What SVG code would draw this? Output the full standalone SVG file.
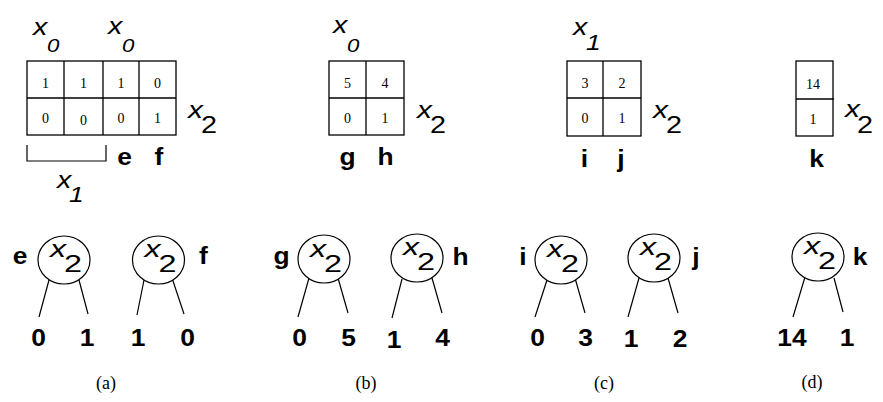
<svg xmlns="http://www.w3.org/2000/svg" width="883" height="402" viewBox="0 0 883 402">
<style>
.g{fill:none;stroke:#000;stroke-width:1.3}
.n{font-family:"Liberation Serif","Times New Roman",serif;font-size:14px;text-anchor:middle;fill:#000}
.v{font-family:"Liberation Sans",Arial,sans-serif;font-style:italic;font-size:23px;fill:#000}
.s0{font-family:"Liberation Sans",Arial,sans-serif;font-style:italic;font-size:18.5px;fill:#000}
.s1{font-family:"Liberation Sans",Arial,sans-serif;font-style:italic;font-size:22px;fill:#000}
.s2{font-family:"Liberation Sans",Arial,sans-serif;font-size:24px;fill:#000}
.b{font-family:"Liberation Sans",Arial,sans-serif;font-weight:bold;font-size:24px;text-anchor:middle;fill:#000}
.c{font-family:"Liberation Serif","Times New Roman",serif;font-size:18px;text-anchor:middle;fill:#000}
.e{fill:#fff;stroke:#000;stroke-width:1.2}
.l{stroke:#000;stroke-width:1.2;fill:none}
</style>
<rect width="883" height="402" fill="#fff"/>

<!-- (a) map -->
<g id="map-a">
<rect class="g" x="27" y="61" width="149" height="74"/>
<path class="g" d="M64 61V135M103 61V135M139 61V135M27 98H176"/>
<text class="n" x="45.5" y="88">1</text><text class="n" x="83.5" y="88">1</text><text class="n" x="121" y="88">1</text><text class="n" x="157.5" y="88">0</text>
<text class="n" x="45.5" y="123">0</text><text class="n" x="83.5" y="125">0</text><text class="n" x="121" y="123">0</text><text class="n" x="157.5" y="123">1</text>
<text class="v" transform="translate(33,35) scale(1.25,1)">x</text><text class="s0" transform="translate(47,52) scale(1.2,1)">0</text>
<text class="v" transform="translate(108,34) scale(1.25,1)">x</text><text class="s0" transform="translate(122,52) scale(1.2,1)">0</text>
<text class="v" transform="translate(188,118) scale(1.3,1)">x</text><text class="s2" transform="translate(201,133) scale(1.2,1)">2</text>
<polyline class="l" points="27,145 27,161 106,161 106,145"/>
<text class="v" transform="translate(57,188) scale(1.25,1)">x</text><text class="s1" transform="translate(69,202) scale(1.2,1)">1</text>
<text class="b" transform="translate(124.5,165) scale(1.1,1)">e</text>
<text class="b" transform="translate(159,165) scale(1.1,1)">f</text>
</g>

<!-- (b) map -->
<g id="map-b">
<rect class="g" x="329" y="61" width="75" height="74"/>
<path class="g" d="M366 61V135M329 98H404"/>
<text class="n" x="347.5" y="88">5</text><text class="n" x="385" y="88">4</text>
<text class="n" x="347.5" y="123">0</text><text class="n" x="385" y="123">1</text>
<text class="v" transform="translate(333,33) scale(1.25,1)">x</text><text class="s0" transform="translate(347,52) scale(1.2,1)">0</text>
<text class="v" transform="translate(417,118) scale(1.3,1)">x</text><text class="s2" transform="translate(430,133) scale(1.2,1)">2</text>
<text class="b" transform="translate(347.5,165) scale(1.1,1)">g</text>
<text class="b" transform="translate(385.5,165) scale(1.1,1)">h</text>
</g>

<!-- (c) map -->
<g id="map-c">
<rect class="g" x="567" y="61" width="74" height="75"/>
<path class="g" d="M603 61V136M567 98H641"/>
<text class="n" x="585" y="88">3</text><text class="n" x="622" y="88">2</text>
<text class="n" x="585" y="123">0</text><text class="n" x="622" y="123">1</text>
<text class="v" transform="translate(573,35) scale(1.25,1)">x</text><text class="s1" transform="translate(586,50) scale(1.2,1)">1</text>
<text class="v" transform="translate(653,118) scale(1.3,1)">x</text><text class="s2" transform="translate(666,133) scale(1.2,1)">2</text>
<text class="b" transform="translate(584.5,167) scale(1.1,1)">i</text>
<text class="b" transform="translate(621,167) scale(1.1,1)">j</text>
</g>

<!-- (d) map -->
<g id="map-d">
<rect class="g" x="796" y="61" width="37" height="75"/>
<path class="g" d="M796 99H834"/>
<text class="n" x="813" y="89">14</text>
<text class="n" x="813" y="124">1</text>
<text class="v" transform="translate(845,117) scale(1.3,1)">x</text><text class="s2" transform="translate(857,133) scale(1.2,1)">2</text>
<text class="b" transform="translate(816.5,167) scale(1.1,1)">k</text>
</g>

<!-- connectors -->
<g id="connectors">
<path class="l" d="M49 280L39 317M79 280L88 314"/>
<path class="l" d="M144 280L137 315M172 278L184 314"/>
<path class="l" d="M309 278L298 317M338 278L348 313"/>
<path class="l" d="M402 279L392 318M432 278L442 313"/>
<path class="l" d="M547 280L535 317M575 278L585 313"/>
<path class="l" d="M639 278L628 317M668 278L678 313"/>
<path class="l" d="M805 277L793 317M834 278L843 312"/>
</g>

<!-- tree nodes -->
<g id="node-e">
<ellipse class="e" cx="64" cy="260" rx="26" ry="24"/>
<text class="v" transform="translate(50,257) scale(1.4,1)">x</text><text class="s2" transform="translate(64,272) scale(1.35,1)">2</text>
<text class="b" transform="translate(20,264) scale(1.1,1)">e</text>
</g>
<g id="node-f">
<ellipse class="e" cx="158.5" cy="260" rx="26" ry="24"/>
<text class="v" transform="translate(144.5,257) scale(1.4,1)">x</text><text class="s2" transform="translate(158.5,272) scale(1.35,1)">2</text>
<text class="b" transform="translate(203.5,264) scale(1.1,1)">f</text>
</g>
<g id="node-g">
<ellipse class="e" cx="324" cy="259" rx="26" ry="24"/>
<text class="v" transform="translate(310,257) scale(1.4,1)">x</text><text class="s2" transform="translate(324,272) scale(1.35,1)">2</text>
<text class="b" transform="translate(281.5,264) scale(1.1,1)">g</text>
</g>
<g id="node-h">
<ellipse class="e" cx="417" cy="258" rx="26" ry="24"/>
<text class="v" transform="translate(403,255) scale(1.4,1)">x</text><text class="s2" transform="translate(417,270) scale(1.35,1)">2</text>
<text class="b" transform="translate(460.5,265) scale(1.1,1)">h</text>
</g>
<g id="node-i">
<ellipse class="e" cx="561" cy="260" rx="26" ry="24"/>
<text class="v" transform="translate(547,257) scale(1.4,1)">x</text><text class="s2" transform="translate(561,272) scale(1.35,1)">2</text>
<text class="b" transform="translate(523,265) scale(1.1,1)">i</text>
</g>
<g id="node-j">
<ellipse class="e" cx="654" cy="258" rx="26" ry="24"/>
<text class="v" transform="translate(640,255) scale(1.4,1)">x</text><text class="s2" transform="translate(654,270) scale(1.35,1)">2</text>
<text class="b" transform="translate(696,265) scale(1.1,1)">j</text>
</g>
<g id="node-k">
<ellipse class="e" cx="818" cy="257" rx="26" ry="24"/>
<text class="v" transform="translate(804,254) scale(1.4,1)">x</text><text class="s2" transform="translate(818,269) scale(1.35,1)">2</text>
<text class="b" transform="translate(860,265) scale(1.1,1)">k</text>
</g>

<!-- leaves -->
<g id="leaves">
<text class="b" transform="translate(38.5,346) scale(1.1,1)">0</text>
<text class="b" transform="translate(87,346) scale(1.1,1)">1</text>
<text class="b" transform="translate(138,346) scale(1.1,1)">1</text>
<text class="b" transform="translate(187.5,346) scale(1.1,1)">0</text>
<text class="b" transform="translate(299.5,346) scale(1.1,1)">0</text>
<text class="b" transform="translate(348.5,346) scale(1.1,1)">5</text>
<text class="b" transform="translate(394,348) scale(1.1,1)">1</text>
<text class="b" transform="translate(442.5,346) scale(1.1,1)">4</text>
<text class="b" transform="translate(537.5,346) scale(1.1,1)">0</text>
<text class="b" transform="translate(585.5,346) scale(1.1,1)">3</text>
<text class="b" transform="translate(631,347) scale(1.1,1)">1</text>
<text class="b" transform="translate(680,347) scale(1.1,1)">2</text>
<text class="b" transform="translate(792,346) scale(1.1,1)">14</text>
<text class="b" transform="translate(847,346) scale(1.1,1)">1</text>
</g>

<!-- captions -->
<g id="captions">
<text class="c" x="106" y="389">(a)</text>
<text class="c" x="366" y="389">(b)</text>
<text class="c" x="604" y="389">(c)</text>
<text class="c" x="812" y="388">(d)</text>
</g>
</svg>
